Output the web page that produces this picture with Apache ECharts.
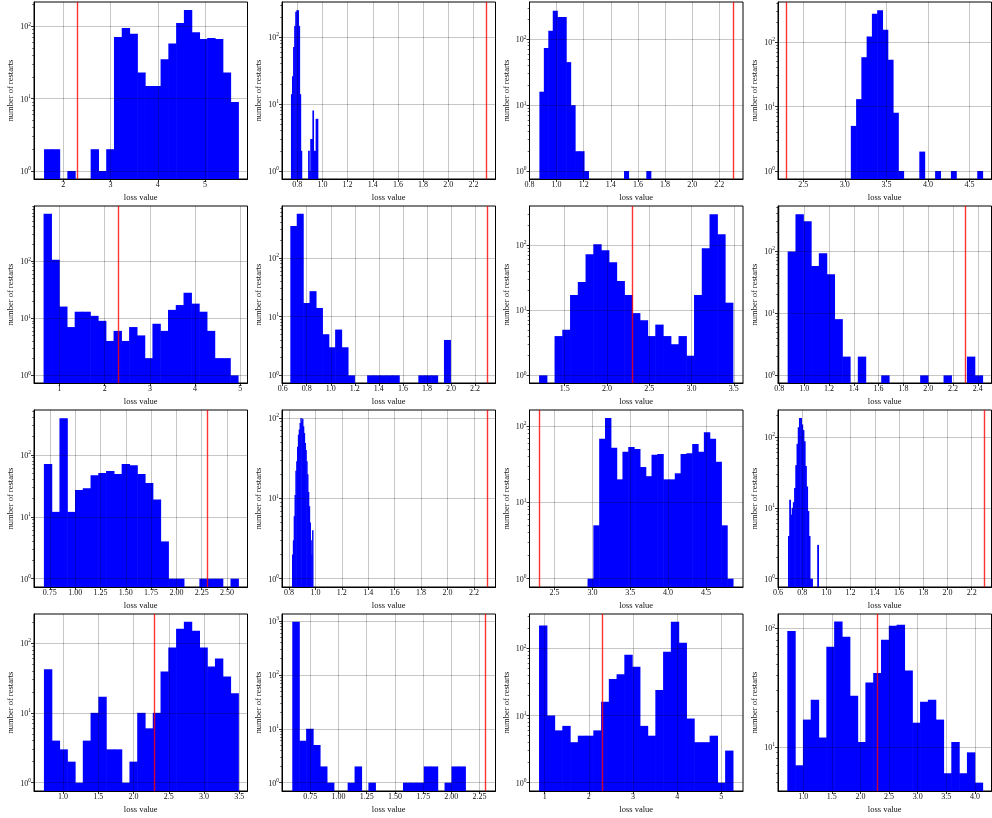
<!DOCTYPE html>
<html><head><meta charset="utf-8">
<script src="https://cdn.jsdelivr.net/npm/echarts@6/dist/echarts.min.js"></script>
<style>html,body{margin:0;padding:0;background:#fff}#c{width:992px;height:818px}</style>
</head><body><div id="c"></div>
<script>
// chance-level loss marker
const redX = 2.302585;

// ---- panel data: histogram range [first edge, last edge], 25 bin counts, axis limits, tick labels ----
const rangeP1 = [1.5925, 5.705];
const countsP1 = [2,2,0,1,0,0,2,1,2,71,95,79,23,15,15,35,58,111,168,83,67,69,67,23,9];
const xLimP1 = [1.38, 5.90];
const yLimP1 = [0.775, 217];
const xTicksP1 = ['2','3','4','5'];

const rangeP2 = [0.75, 0.963];
const countsP2 = [14,26,71,146,238,250,250,146,14,2,0,0,0,0,0,0,2,1,3,3,8,2,2,6,6];
const xLimP2 = [0.679, 2.375];
const yLimP2 = [0.76, 332];
const xTicksP2 = ['0.8','1.0','1.2','1.4','1.6','1.8','2.0','2.2'];

const rangeP3 = [0.873, 1.6945];
const countsP3 = [16,74,135,270,218,218,45,10,2,2,1,0,0,0,0,0,0,0,0,1,0,0,0,0,1];
const xLimP3 = [0.80, 2.375];
const yLimP3 = [0.757, 368];
const xTicksP3 = ['0.8','1.0','1.2','1.4','1.6','1.8','2.0','2.2'];

const rangeP4 = [3.072, 4.656];
const countsP4 = [5,13,58,122,274,309,155,53,8,1,0,0,0,2,0,0,1,0,0,1,0,0,0,0,1];
const xLimP4 = [2.196, 4.764];
const yLimP4 = [0.752, 416];
const xTicksP4 = ['2.5','3.0','3.5','4.0','4.5'];

const rangeP5 = [0.648, 4.949];
const countsP5 = [677,106,16,7,13,13,11,9,4,6,4,7,5,2,8,6,14,17,28,18,13,6,2,2,1];
const xLimP5 = [0.436, 5.16];
const yLimP5 = [0.734, 922];
const xTicksP5 = ['1','2','3','4','5'];

const rangeP6 = [0.6638, 1.9945];
const countsP6 = [347,562,17,27,14,5,3,6,3,1,0,0,1,1,1,1,1,0,0,0,1,1,1,0,4];
const xLimP6 = [0.5945, 2.37];
const yLimP6 = [0.74, 760];
const xTicksP6 = ['0.6','0.8','1.0','1.2','1.4','1.6','1.8','2.0','2.2'];

const rangeP7 = [1.196, 3.488];
const countsP7 = [1,0,4,5,17,27,72,102,83,54,28,17,9,7,4,6,4,3,4,2,17,89,295,146,13];
const xLimP7 = [1.083, 3.609];
const yLimP7 = [0.763, 395];
const xTicksP7 = ['1.5','2.0','2.5','3.0','3.5'];

const rangeP8 = [0.867, 2.4375];
const countsP8 = [98,387,299,57,92,42,8,2,0,2,0,0,1,0,0,0,0,1,0,0,1,0,0,2,1];
const xLimP8 = [0.789, 2.51];
const yLimP8 = [0.753, 527];
const xTicksP8 = ['0.8','1.0','1.2','1.4','1.6','1.8','2.0','2.2','2.4'];

const rangeP9 = [0.691, 2.611];
const countsP9 = [71,12,389,12,27,29,47,51,55,49,71,68,49,35,19,4,1,1,0,0,1,1,1,0,1];
const xLimP9 = [0.5933, 2.702];
const yLimP9 = [0.734, 530];
const xTicksP9 = ['0.75','1.00','1.25','1.50','1.75','2.00','2.25','2.50'];

const rangeP10 = [0.8226, 0.981];
const countsP10 = [2,3,6,11,22,29,44,62,72,87,100,91,98,79,65,49,40,29,20,12,8,5,3,2,4];
const xLimP10 = [0.747, 2.363];
const yLimP10 = [0.788, 126];
const xTicksP10 = ['0.8','1.0','1.2','1.4','1.6','1.8','2.0','2.2'];

const rangeP11 = [2.936, 4.857];
const countsP11 = [1,5,68,127,52,20,46,53,50,29,22,42,43,20,20,24,43,44,58,46,83,68,34,5,1];
const xLimP11 = [2.169, 4.99];
const yLimP11 = [0.778, 162];
const xTicksP11 = ['2.5','3.0','3.5','4.0','4.5'];

const rangeP12 = [0.6826, 0.934];
const countsP12 = [4,13,8,10,12,19,40,80,137,185,185,150,125,87,39,20,9,4,1,1,0,0,0,0,3];
const xLimP12 = [0.60, 2.364];
const yLimP12 = [0.763, 240];
const xTicksP12 = ['0.6','0.8','1.0','1.2','1.4','1.6','1.8','2.0','2.2'];

const rangeP13 = [0.728, 3.486];
const countsP13 = [42,4,3,2,1,4,10,17,3,3,1,2,10,6,10,39,86,160,202,150,86,46,60,33,19];
const xLimP13 = [0.587, 3.617];
const yLimP13 = [0.76, 260];
const xTicksP13 = ['1.0','1.5','2.0','2.5','3.0','3.5'];

const rangeP14 = [0.591, 2.1235];
const countsP14 = [970,6,10,5,2,1,0,0,1,2,0,1,0,0,0,0,1,1,1,2,2,0,1,2,2];
const xLimP14 = [0.50, 2.391];
const yLimP14 = [0.70, 1349];
const xTicksP14 = ['0.75','1.00','1.25','1.50','1.75','2.00','2.25'];

const rangeP15 = [0.873, 5.261];
const countsP15 = [218,10,6,7,4,5,5,6,16,35,41,80,53,7,5,24,89,249,121,9,4,4,5,1,3];
const xLimP15 = [0.657, 5.49];
const yLimP15 = [0.751, 324];
const xTicksP15 = ['1','2','3','4','5'];

const rangeP16 = [0.7214, 4.1335];
const countsP16 = [95,7,17,25,12,70,114,85,27,11,35,42,80,105,107,44,16,24,25,17,6,11,6,9,5];
const xLimP16 = [0.559, 4.29];
const yLimP16 = [4.25, 132];
const xTicksP16 = ['1.0','1.5','2.0','2.5','3.0','3.5','4.0'];

const panels = [
  [rangeP1, countsP1, xLimP1, yLimP1, xTicksP1],
  [rangeP2, countsP2, xLimP2, yLimP2, xTicksP2],
  [rangeP3, countsP3, xLimP3, yLimP3, xTicksP3],
  [rangeP4, countsP4, xLimP4, yLimP4, xTicksP4],
  [rangeP5, countsP5, xLimP5, yLimP5, xTicksP5],
  [rangeP6, countsP6, xLimP6, yLimP6, xTicksP6],
  [rangeP7, countsP7, xLimP7, yLimP7, xTicksP7],
  [rangeP8, countsP8, xLimP8, yLimP8, xTicksP8],
  [rangeP9, countsP9, xLimP9, yLimP9, xTicksP9],
  [rangeP10, countsP10, xLimP10, yLimP10, xTicksP10],
  [rangeP11, countsP11, xLimP11, yLimP11, xTicksP11],
  [rangeP12, countsP12, xLimP12, yLimP12, xTicksP12],
  [rangeP13, countsP13, xLimP13, yLimP13, xTicksP13],
  [rangeP14, countsP14, xLimP14, yLimP14, xTicksP14],
  [rangeP15, countsP15, xLimP15, yLimP15, xTicksP15],
  [rangeP16, countsP16, xLimP16, yLimP16, xTicksP16]
];

const majorY = [1, 10, 100, 1000];
const minorY = [2,3,4,5,6,7,8,9,20,30,40,50,60,70,80,90,200,300,400,500,600,700,800,900];

// ---- layout / style ----
const FONT = 'Liberation Serif';
const colLeft = [34, 282, 529.5, 778];
const rowTop = [2, 206, 410, 614];
const W = 213.5, H = 177;
const gridColor = 'rgba(0,0,0,0.28)';

const grids = [], xAxes = [], yAxes = [], series = [];
panels.forEach((p, i) => {
  const [range, counts, xLim, yLim, xTicks] = p;
  const r = Math.floor(i / 4), c = i % 4;
  const dec = (xTicks[0].split('.')[1] || '').length;
  const tickVals = xTicks.map(parseFloat);
  grids.push({left: colLeft[c], top: rowTop[r], width: W, height: H,
    show: true, borderColor: '#000', borderWidth: 1, backgroundColor: 'transparent'});
  xAxes.push({
    type: 'value', gridIndex: i, min: xLim[0], max: xLim[1], z: 5,
    name: 'loss value', nameLocation: 'middle', nameGap: 14.5,
    nameTextStyle: {fontFamily: FONT, fontSize: 8.5, color: '#111'},
    axisLine: {show: true, onZero: false, lineStyle: {color: '#000', width: 1}},
    axisTick: {show: true, length: 3, lineStyle: {color: '#000', width: 0.8}, customValues: tickVals},
    axisLabel: {show: true, customValues: tickVals, margin: 2, fontFamily: FONT, fontSize: 8, color: '#111',
      formatter: v => Number(v).toFixed(dec)},
    splitLine: {show: true, lineStyle: {color: gridColor, width: 0.8}}
  });
  yAxes.push({
    type: 'log', logBase: 10, gridIndex: i, min: yLim[0], max: yLim[1], z: 5, position: 'left',
    name: 'number of restarts', nameLocation: 'middle', nameGap: 18.5, nameRotate: 90,
    nameTextStyle: {fontFamily: FONT, fontSize: 8.5, color: '#111'},
    axisLine: {show: true, lineStyle: {color: '#000', width: 1}},
    axisTick: {show: true, length: 3, lineStyle: {color: '#000', width: 0.8}, customValues: majorY},
    axisLabel: {show: true, customValues: majorY, margin: 3, fontFamily: FONT, fontSize: 8, color: '#111',
      formatter: v => '{b|10}{s|' + Math.round(Math.log10(v)) + '}',
      rich: {b: {fontFamily: FONT, fontSize: 8, color: '#111', verticalAlign: 'bottom'},
             s: {fontFamily: FONT, fontSize: 5.5, color: '#111', verticalAlign: 'bottom', padding: [0, 0, 4, 0]}}},
    splitLine: {show: true, lineStyle: {color: gridColor, width: 0.8}}
  });
  yAxes.push({
    type: 'log', logBase: 10, gridIndex: i, min: yLim[0], max: yLim[1], z: 5, position: 'left',
    axisLine: {show: false},
    axisTick: {show: true, length: 1.8, lineStyle: {color: '#000', width: 0.6}, customValues: minorY},
    axisLabel: {show: false}, splitLine: {show: false}
  });
  const step = (range[1] - range[0]) / counts.length;
  const data = [];
  counts.forEach((n, k) => {
    if (n > 0) data.push([range[0] + k * step, range[0] + (k + 1) * step, n]);
  });
  const yBottom = yLim[0];
  series.push({
    type: 'custom', xAxisIndex: i, yAxisIndex: 2 * i, data: data, clip: true, z: 2,
    encode: {x: [0, 1], y: 2},
    renderItem: (params, api) => {
      const a = api.coord([api.value(0), api.value(2)]);
      const b = api.coord([api.value(1), yBottom]);
      // slight overlap so neighbouring bins join without anti-aliasing seams
      return {type: 'rect', shape: {x: a[0], y: a[1], width: b[0] - a[0] + 0.6, height: b[1] - a[1]},
        style: {fill: '#0000ff'}};
    },
    markLine: {silent: true, symbol: ['none', 'none'], animation: false, z: 6,
      label: {show: false}, emphasis: {disabled: true},
      lineStyle: {color: 'rgba(255,0,0,0.8)', width: 1.4, type: 'solid'},
      data: [{xAxis: redX}]}
  });
});

const chart = echarts.init(document.getElementById('c'), null, {renderer: 'canvas'});
chart.setOption({
  animation: false,
  backgroundColor: '#ffffff',
  textStyle: {fontFamily: FONT},
  grid: grids, xAxis: xAxes, yAxis: yAxes, series: series
});
</script>
</body></html>
